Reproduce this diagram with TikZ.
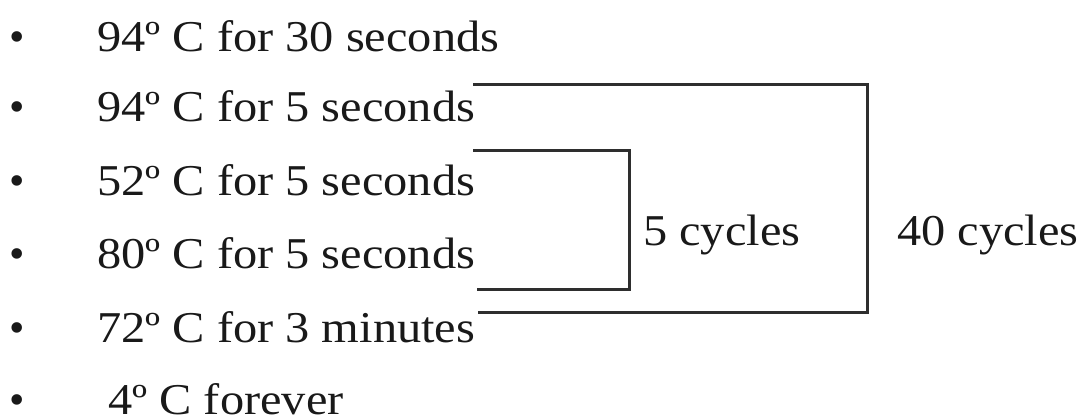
\documentclass[tikz,border=0pt]{standalone}
\usepackage{fontspec}
\setmainfont{Liberation Serif}
\usepackage{graphicx}
\begin{document}
\begin{tikzpicture}[x=1pt,y=-1pt,
  txt/.style={anchor=base west,inner sep=0pt,text=black!90,
    font=\fontsize{44}{48}\selectfont},
  dot/.style={anchor=base,inner sep=0pt,text=black!90,
    font=\fontsize{44}{48}\selectfont},
  bracket/.style={draw=black!82,line width=3pt,line cap=butt,line join=miter}]
\useasboundingbox (0,0) rectangle (1081,417);
\newcommand{\wide}[1]{\scalebox{1.1}[1]{#1}}

% bullets
\foreach \y/\n in {52/1,122/2,195/3,268/4,342/5,414/6}
  \node[dot] (b\n) at (17,\y) {•};

% steps
\node[txt] (t1) at (97,52)  {\wide{94º C for 30 seconds}};
\node[txt] (t2) at (97,122) {\wide{94º C for 5 seconds}};
\node[txt] (t3) at (97,195) {\wide{52º C for 5 seconds}};
\node[txt] (t4) at (97,268) {\wide{80º C for 5 seconds}};
\node[txt] (t5) at (97,342) {\wide{72º C for 3 minutes}};
\node[txt] (t6) at (108,414) {\wide{4º C forever}};

% cycle labels
\node[txt] (c5)  at (643,245) {\wide{5 cycles}};
\node[txt] (c40) at (897,245) {\wide{40 cycles}};

% bracket corners
\coordinate (o1) at (473,85);
\coordinate (o2) at (867,85);
\coordinate (o3) at (867,312);
\coordinate (o4) at (478,312);
\coordinate (i1) at (473,150);
\coordinate (i2) at (629,150);
\coordinate (i3) at (629,289);
\coordinate (i4) at (477,289);

\draw[bracket] (o1) -- (o2) -- (o3) -- (o4);
\draw[bracket] (i1) -- (i2) -- (i3) -- (i4);
\end{tikzpicture}
\end{document}
